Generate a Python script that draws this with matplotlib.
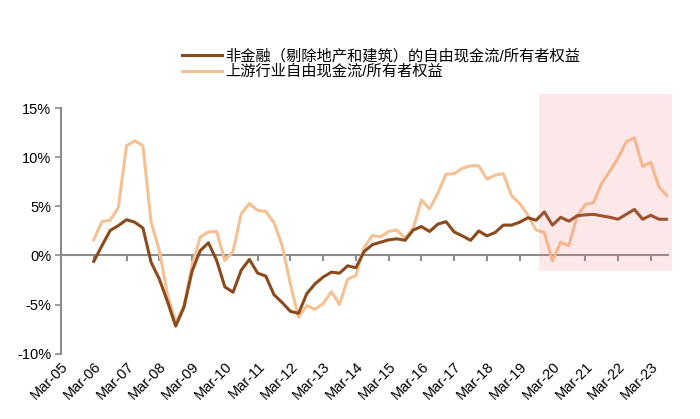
import numpy as np
import matplotlib
matplotlib.use("Agg")
import matplotlib.pyplot as plt
from matplotlib.patches import Rectangle

plt.rcParams['font.family'] = ['Liberation Sans', 'Noto Sans CJK SC']

# quarterly data, first point Mar-06, last point Sep-23
start_q = 4  # quarters after Mar-05
nonfin_fcf = [
    -0.6, 1.0, 2.55, 3.05, 3.65, 3.4, 2.8, -0.7, -2.4, -4.7, -7.2, -5.3,
    -1.6, 0.5, 1.3, -0.5, -3.2, -3.75, -1.5, -0.4, -1.8, -2.1, -4.0, -4.8,
    -5.7, -5.9, -3.9, -2.9, -2.2, -1.7, -1.8, -1.05, -1.25, 0.4, 1.1, 1.35,
    1.6, 1.7, 1.55, 2.6, 2.95, 2.45, 3.2, 3.45, 2.4, 2.0, 1.55, 2.5,
    2.0, 2.35, 3.1, 3.1, 3.4, 3.85, 3.6, 4.45, 3.1, 3.9, 3.5, 4.05,
    4.15, 4.2, 4.05, 3.9, 3.7, 4.2, 4.7, 3.7, 4.1, 3.7, 3.7,
]
upstream_fcf = [
    1.6, 3.45, 3.6, 4.9, 11.2, 11.7, 11.2, 3.4, 0.5, -4.0, -6.8, -5.2,
    -1.0, 1.9, 2.4, 2.45, -0.5, 0.4, 4.25, 5.3, 4.6, 4.5, 3.35, 1.0,
    -2.9, -6.3, -5.1, -5.5, -4.9, -3.7, -5.0, -2.4, -2.05, 0.8, 2.05, 1.9,
    2.45, 2.6, 1.75, 2.8, 5.65, 4.75, 6.35, 8.3, 8.35, 8.9, 9.15, 9.15,
    7.8, 8.2, 8.35, 6.1, 5.3, 4.1, 2.6, 2.35, -0.55, 1.36, 1.0, 4.0,
    5.2, 5.4, 7.35, 8.6, 9.95, 11.6, 12.0, 9.1, 9.5, 7.0, 6.1,
]
tick_labels = ['Mar-%02d' % y for y in range(5, 24)]
labels = ['非金融（剔除地产和建筑）的自由现金流/所有者权益',
          '上游行业自由现金流/所有者权益']
# highlighted period (quarters from Mar-05, % values)
shade_x = (58.3, 74.6)
shade_y = (-1.6, 16.5)

x = np.arange(start_q, start_q + len(nonfin_fcf))
tick_pos = np.arange(len(tick_labels)) * 4
grey = '#8c8c8c'

fig = plt.figure(figsize=(7, 4.19), dpi=100)
ax = fig.add_axes([61 / 700, 1 - 353.5 / 419, 607 / 700, 245 / 419])

ax.plot(x, nonfin_fcf, color='#8b4a1c', lw=2.2, label=labels[0], zorder=3)
ax.plot(x, upstream_fcf, color='#f5c193', lw=2.2, label=labels[1], zorder=2)

ax.add_patch(Rectangle((shade_x[0], shade_y[0]), shade_x[1] - shade_x[0],
                       shade_y[1] - shade_y[0], facecolor='#f07c7c',
                       alpha=0.17, lw=0, zorder=4, clip_on=False))

ax.set_xlim(0, 74.1)
ax.set_ylim(-10, 15)
ax.set_yticks(np.arange(-10, 16, 5))
ax.set_yticklabels(['%d%%' % v for v in range(-10, 16, 5)], fontsize=10.5)
ax.set_xticks(tick_pos)
ax.set_xticklabels(tick_labels, rotation=45, ha='right', va='top',
                   rotation_mode='anchor', fontsize=10.5)
ax.tick_params(axis='x', length=0, pad=4)
ax.tick_params(axis='y', length=4, color=grey, width=1.2, pad=3)

for s in ['top', 'right', 'bottom']:
    ax.spines[s].set_visible(False)
ax.spines['left'].set_color(grey)
ax.spines['left'].set_linewidth(1.5)

# zero line with the year ticks
sec = ax.secondary_xaxis(10 / 25)
sec.set_xticks(tick_pos)
sec.set_xticklabels([])
sec.tick_params(length=4, width=1.5, color=grey, direction='out')
sec.spines['bottom'].set_color(grey)
sec.spines['bottom'].set_linewidth(1.5)
sec.set_zorder(1)

fig.legend(loc='upper left', bbox_to_anchor=(182 / 700, 1 - 49 / 419),
           frameon=False, fontsize=11, handlelength=2.6, handletextpad=0.2,
           labelspacing=0.05, borderpad=0, borderaxespad=0)

fig.savefig('out.png', dpi=100)
